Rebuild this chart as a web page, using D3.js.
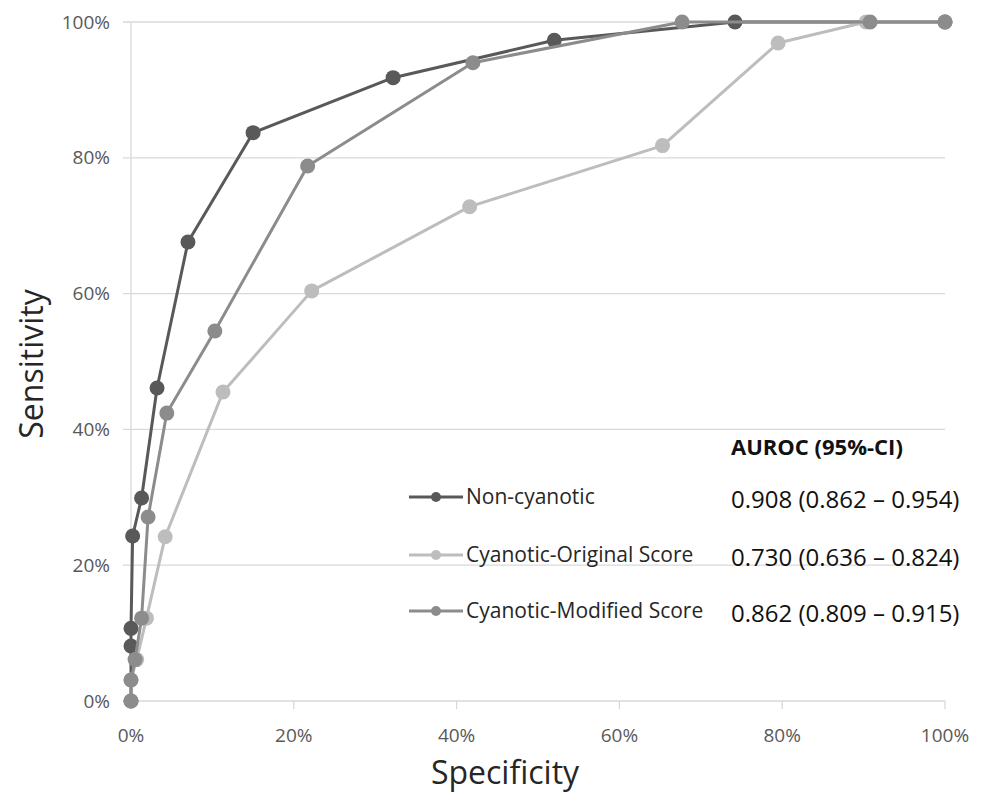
<!DOCTYPE html>
<meta charset="utf-8">
<style>
    body { margin: 0; background: #fff; }
    text { font-family: "Open Sans", sans-serif; }
    .grid line { stroke: #d9d9d9; stroke-width: 1.3; }
    .tick-label { fill: #595959; font-size: 19px; }
    .axis-title { fill: #262626; font-size: 32px; }
    .legend-label { fill: #262626; font-size: 21px; }
    .auroc { fill: #111; font-size: 24px; }
</style>
<body>
<div id="chart"></div>
<script src="https://d3js.org/d3.v7.min.js"></script>
<script>
    // tick values (percent)
    var ticks = [0, 20, 40, 60, 80, 100];

    // series: x = specificity axis, y = sensitivity (percent)
    var nonCyanX = [0, 0, 0, 0.2, 1.3, 3.2, 7.0, 15.0, 32.2, 52.0, 74.2, 100];
    var nonCyanY = [0, 8.1, 10.7, 24.3, 29.9, 46.1, 67.6, 83.7, 91.8, 97.3, 100, 100];

    var origX = [0, 0, 0.7, 1.9, 4.2, 11.3, 22.2, 41.6, 65.3, 79.5, 90.3, 100];
    var origY = [0, 3.1, 6.1, 12.2, 24.2, 45.5, 60.4, 72.8, 81.8, 96.9, 100, 100];

    var modX = [0, 0, 0.5, 1.3, 2.1, 4.4, 10.3, 21.7, 42.0, 67.7, 90.8, 100];
    var modY = [0, 3.1, 6.1, 12.2, 27.1, 42.4, 54.5, 78.8, 94.0, 100, 100, 100];

    var seriesNames = ["Non-cyanotic", "Cyanotic-Original Score", "Cyanotic-Modified Score"];
    var seriesColors = ["#595959", "#bdbdbd", "#8c8c8c"];
    var aurocHeader = "AUROC (95%-CI)";
    var aurocValues = ["0.908 (0.862 \u2013 0.954)", "0.730 (0.636 \u2013 0.824)", "0.862 (0.809 \u2013 0.915)"];

    var width = 991, height = 792;
    var plot = { left: 131, right: 945, top: 22, bottom: 701 };

    var svg = d3.select("#chart").append("svg")
        .attr("width", width)
        .attr("height", height);

    var x = d3.scaleLinear().domain([0, 100]).range([plot.left, plot.right]);
    var y = d3.scaleLinear().domain([0, 100]).range([plot.bottom, plot.top]);

    // horizontal gridlines with small outer ticks
    var grid = svg.append("g").attr("class", "grid");
    grid.selectAll(".h")
        .data(ticks)
        .enter().append("line")
        .attr("x1", plot.left - 8)
        .attr("x2", plot.right)
        .attr("y1", function (d) { return y(d); })
        .attr("y2", function (d) { return y(d); });

    // vertical axis line
    grid.append("line")
        .attr("x1", plot.left).attr("x2", plot.left)
        .attr("y1", plot.top).attr("y2", plot.bottom);

    // x tick marks
    grid.selectAll(".xt")
        .data(ticks)
        .enter().append("line")
        .attr("x1", function (d) { return x(d); })
        .attr("x2", function (d) { return x(d); })
        .attr("y1", plot.bottom)
        .attr("y2", plot.bottom + 8);

    svg.selectAll(".ylab")
        .data(ticks)
        .enter().append("text")
        .attr("class", "tick-label")
        .attr("x", plot.left - 21)
        .attr("y", function (d) { return y(d); })
        .attr("dy", "0.35em")
        .attr("text-anchor", "end")
        .text(function (d) { return d + "%"; });

    svg.selectAll(".xlab")
        .data(ticks)
        .enter().append("text")
        .attr("class", "tick-label")
        .attr("x", function (d) { return x(d); })
        .attr("y", plot.bottom + 34)
        .attr("dy", "0.35em")
        .attr("text-anchor", "middle")
        .text(function (d) { return d + "%"; });

    svg.append("text")
        .attr("class", "axis-title")
        .attr("text-anchor", "middle")
        .attr("transform", "translate(32,364) rotate(-90)")
        .attr("dy", "0.35em")
        .text("Sensitivity");

    svg.append("text")
        .attr("class", "axis-title")
        .attr("text-anchor", "middle")
        .attr("x", 505)
        .attr("y", 773)
        .attr("dy", "0.35em")
        .text("Specificity");

    // series
    var series = [
        { xs: nonCyanX, ys: nonCyanY },
        { xs: origX, ys: origY },
        { xs: modX, ys: modY }
    ];

    var line = d3.line()
        .x(function (d) { return x(d[0]); })
        .y(function (d) { return y(d[1]); });

    series.forEach(function (s, i) {
        var pts = d3.zip(s.xs, s.ys);
        var g = svg.append("g");
        g.append("path")
            .datum(pts)
            .attr("fill", "none")
            .attr("stroke", seriesColors[i])
            .attr("stroke-width", 3)
            .attr("stroke-linejoin", "round")
            .attr("d", line);
        g.selectAll("circle")
            .data(pts)
            .enter().append("circle")
            .attr("cx", function (d) { return x(d[0]); })
            .attr("cy", function (d) { return y(d[1]); })
            .attr("r", 7.5)
            .attr("fill", seriesColors[i]);
    });

    // legend
    var legendY = [497, 555, 611];
    var legend = svg.append("g");
    seriesNames.forEach(function (name, i) {
        legend.append("line")
            .attr("x1", 409).attr("x2", 463)
            .attr("y1", legendY[i]).attr("y2", legendY[i])
            .attr("stroke", seriesColors[i])
            .attr("stroke-width", 3);
        legend.append("circle")
            .attr("cx", 436).attr("cy", legendY[i])
            .attr("r", 5)
            .attr("fill", seriesColors[i]);
        legend.append("text")
            .attr("class", "legend-label")
            .attr("x", 466).attr("y", legendY[i])
            .attr("dy", "0.35em")
            .text(name);
        legend.append("text")
            .attr("class", "auroc")
            .attr("x", 731).attr("y", legendY[i] + 3)
            .attr("dy", "0.35em")
            .text(aurocValues[i]);
    });
    legend.append("text")
        .attr("class", "auroc")
        .attr("x", 731).attr("y", 447)
        .attr("dy", "0.35em")
        .style("font-weight", "bold")
        .style("font-size", "22px")
        .text(aurocHeader);
</script>
</body>
